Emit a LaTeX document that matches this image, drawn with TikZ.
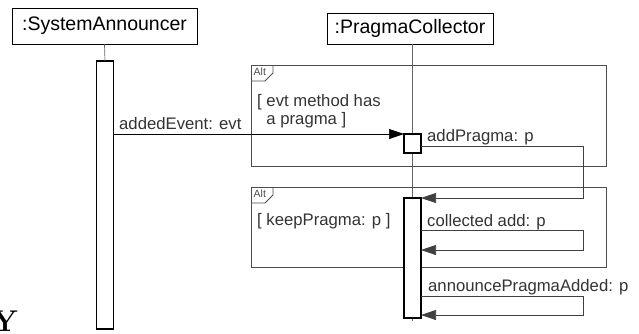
\documentclass[tikz,border=0pt]{standalone}
\usepackage{fontspec}
\setsansfont{Liberation Sans}
\usetikzlibrary{arrows.meta}

\tikzset{
  objbox/.style={draw, thick, fill=white, inner sep=0pt, minimum height=31pt, font=\sffamily\fontsize{19.5}{22}\selectfont},
  actbar/.style={draw, line width=1.1pt, fill=white, inner sep=0pt, outer sep=0pt, minimum width=17pt},
  lifeline/.style={black!60, line width=0.7pt},
  altframe/.style={black!70, line width=0.8pt},
  alttag/.style={anchor=north west, inner sep=0pt, black!70, font=\sffamily\fontsize{10.5}{11}\selectfont},
  msg/.style={line width=0.7pt, -{Triangle[length=15pt, width=10pt]}},
  selfmsg/.style={black!75, line width=0.7pt, -{Triangle[length=15pt, width=10pt]}},
  msglabel/.style={anchor=base west, inner sep=0pt, black!80, font=\sffamily\fontsize{16.7}{18}\selectfont},
}

\begin{document}
\begin{tikzpicture}[x=1pt, y=-1pt]
    \useasboundingbox (0,0) rectangle (639,333);

    % objects and lifelines
    \node[objbox, minimum width=185pt, minimum height=36pt] (sa) at (104.5,26) {:SystemAnnouncer};
    \node[objbox, minimum width=166pt] (pc) at (410,28.5) {:PragmaCollector};
    \coordinate (pcEnd) at (412.5,321);
    \draw[lifeline] (pcEnd |- pc.south) -- (pcEnd);

    % combined fragments
    \foreach \top/\bot in {65/166, 187/267} {
        \draw[altframe] (251,\top) rectangle (606,\bot);
        \draw[altframe] (273,\top) -- (273,\top+8) -- (265,\top+16) -- (251,\top+16);
        \node[alttag] at (253.5,\top+2.5) {Alt};
    }
    \node[msglabel, anchor=north west, align=left] (guardEvt) at (257,94) {[ evt method has\\\hphantom{[\ }a pragma ]};
    \node[msglabel] (guardKeep) at (257,225.5) {[ keepPragma: p ]};

    % activations
    \node[actbar, minimum height=268pt] (saBar) at (105,195) {};
    \draw[lifeline] (sa.south) -- (saBar.north);
    \node[actbar, minimum height=19pt] (pcAdd) at (412.5,143.5) {};
    \node[actbar, minimum height=120pt] (pcBar) at (412.5,258) {};

    % messages
    \draw[msg] (saBar.east |- pcAdd.north) -- (pcAdd.north west);
    \node[msglabel] (evtLbl) at (119,129.5) {addedEvent: evt};

    \draw[selfmsg] ([yshift=-2.5pt]pcAdd.east) -- ++(162,0) |- (pcBar.north east);
    \node[msglabel] (addLbl) at (427,141) {addPragma: p};

    \draw[selfmsg] ([yshift=-32pt]pcBar.north east) -- ++(162,0) -- ++(0,20) -- ++(-162,0);
    \node[msglabel] (collLbl) at (427,226) {collected add: p};

    \draw[selfmsg] ([yshift=-98pt]pcBar.north east) -- ++(162,0) -- ++(0,19) -- ++(-162,0);
    \node[msglabel] (annLbl) at (428,291) {announcePragmaAdded: p};

    \node[anchor=north, inner sep=0pt, font=\bfseries\fontsize{30}{30}\selectfont] (cornerY) at (5,311) {Y};
\end{tikzpicture}
\end{document}
